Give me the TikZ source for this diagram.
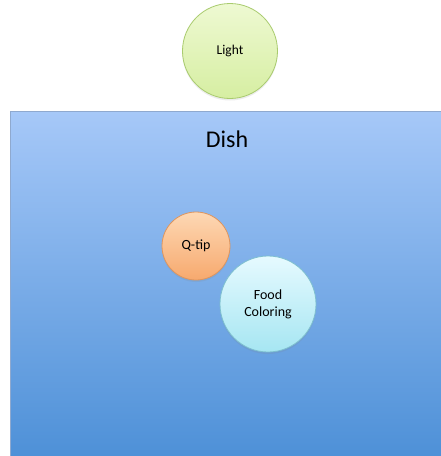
\documentclass[tikz,border=0pt]{standalone}
\usepackage{fontspec}
\setmainfont{Carlito}
\usetikzlibrary{shadows}
\definecolor{lightA}{HTML}{EEF9D2}
\definecolor{lightB}{HTML}{D6EEA2}
\definecolor{lightE}{HTML}{A9CB6E}
\definecolor{dishA}{HTML}{A6C8F8}
\definecolor{dishB}{HTML}{4A8ED6}
\definecolor{dishE}{HTML}{8FA9CF}
\definecolor{qA}{HTML}{FDD8B4}
\definecolor{qB}{HTML}{F7A96E}
\definecolor{qE}{HTML}{DE955E}
\definecolor{fA}{HTML}{E6FAFF}
\definecolor{fB}{HTML}{A6E6F2}
\definecolor{fE}{HTML}{7DBFCF}
\tikzset{
  blob/.style={circle, draw, line width=0.8pt, inner sep=0pt, align=center,
    drop shadow={shadow xshift=0pt, shadow yshift=-2pt, opacity=0.15}},
}
\begin{document}
\begin{tikzpicture}[x=1pt,y=-1pt]
\useasboundingbox (0,0) rectangle (440,456);
\fill[white] (0,0) rectangle (440,456);
\node[draw=dishE, line width=0.8pt, top color=dishA, bottom color=dishB,
  minimum width=440pt, minimum height=360pt, anchor=north west, inner sep=0pt] (dish) at (10,111) {};
\node[font=\fontsize{24}{26}\selectfont] (dishlabel) at (227,139) {Dish};
\node[blob, draw=lightE, top color=lightA, bottom color=lightB, minimum size=95pt,
  font=\fontsize{13.5}{15}\selectfont] (light) at (230,51) {Light};
\node[blob, draw=qE, top color=qA, bottom color=qB, minimum size=68pt,
  font=\fontsize{14}{16}\selectfont] (qtip) at (196,246) {Q-tip};
\node[blob, draw=fE, top color=fA, bottom color=fB, minimum size=96pt,
  font=\fontsize{14}{17}\selectfont] (food) at (268,304) {Food\\Coloring};
\end{tikzpicture}
\end{document}
